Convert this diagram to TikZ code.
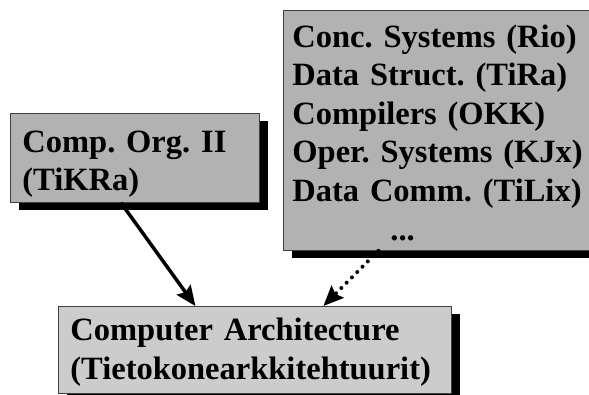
\documentclass[tikz,border=0pt]{standalone}
\usepackage{fontspec}
\setmainfont{Liberation Serif}
\usetikzlibrary{arrows.meta,shadows}
\definecolor{darkbox}{gray}{0.7}
\definecolor{lightbox}{gray}{0.8}
\newcommand{\toprule}[1]{\rule{0pt}{#1}}

\begin{document}
\frenchspacing
\begin{tikzpicture}[x=1pt,y=1pt,
    course/.style={draw=black!75, line width=0.8pt, anchor=north west,
      align=left, inner xsep=12pt, inner ysep=0pt,
      font=\fontsize{32.5}{38.6}\selectfont\bfseries,
      drop shadow={shadow xshift=9pt, shadow yshift=-8pt, fill=black, opacity=1}},
    req/.style={line width=3.5pt, -{Stealth[length=20pt,width=17pt,inset=3pt]}},
    optreq/.style={req, line width=4pt, line cap=round, dash pattern=on 0pt off 7.5pt}]
  \useasboundingbox (0,0) rectangle (589,394);
  \node[course, fill=darkbox, text width=225pt, minimum height=89pt] (org) at (10,281)
    {\toprule{34pt}Comp. Org. II\\(TiKRa)};
  \node[course, fill=darkbox, inner xsep=9pt, text width=304pt, minimum height=240pt] (other) at (283,384)
    {\toprule{27pt}Conc. Systems (Rio)\\Data Struct. (TiRa)\\Compilers (OKK)\\Oper. Systems (KJx)\\
     Data Comm. (TiLix)\\\hspace*{98pt}...};
  \node[course, fill=lightbox, text width=369pt, minimum height=87pt] (arch) at (58,88)
    {\toprule{27pt}Computer Architecture\\(Tietokonearkkitehtuurit)};
  \draw[req] ([xshift=-14pt]org.south) -- ([xshift=-59.5pt]arch.north);
  \draw[optreq] ([xshift=-66pt]other.south) -- ([xshift=68.5pt]arch.north);
\end{tikzpicture}
\end{document}
